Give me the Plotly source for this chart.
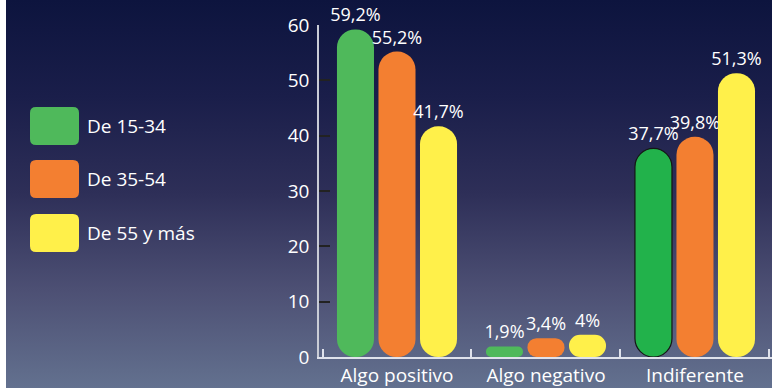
import base64
import plotly.graph_objects as go

# ---------------- data ----------------
categories = ["Algo positivo", "Algo negativo", "Indiferente"]
series_names = ["De 15-34", "De 35-54", "De 55 y más"]
values_15_34 = [59.2, 1.9, 37.7]
values_35_54 = [55.2, 3.4, 39.8]
values_55_mas = [41.7, 4.0, 51.3]
y_ticks = [0, 10, 20, 30, 40, 50, 60]

series_values = [values_15_34, values_35_54, values_55_mas]

# ---------------- styles ----------------
series_colors = [
    ["#4fb95b", "#4fb95b", "#22b24b"],
    ["#f37f31", "#f37f31", "#f37f31"],
    ["#fff04a", "#fff04a", "#fff04a"],
]
legend_colors = ["#4fb95b", "#f37f31", "#fff04a"]
outline_colors = [[None, None, "#151515"], [None, None, None], [None, None, None]]
FONT = "Open Sans"

W, H = 772, 388
L, R, T, B = 319, 0, 25, 31
PW, PH = W - L - R, H - T - B
X_RANGE = [-0.5235, 2.517]
Y_RANGE = [0, 60]
BARGAP, BARGROUPGAP = 0.164, 0.108

cat_px = PW / (X_RANGE[1] - X_RANGE[0])
bar_w_px = cat_px * (1 - BARGAP) / 3 * (1 - BARGROUPGAP)
px_per_unit = PH / (Y_RANGE[1] - Y_RANGE[0])


def label(v):
    return f"{v:g}".replace(".", ",") + "%"


def px_x(px):
    return (px - L) / PW


def px_y(py):
    return (H - B - py) / PH


fig = go.Figure()

# pill-shaped bars: with an explicit base, plotly rounds both ends of the bar
for si, vals in enumerate(series_values):
    for ci, v in enumerate(vals):
        r = min(bar_w_px / 2, v * px_per_unit / 2)
        col = series_colors[si][ci]
        oc = outline_colors[si][ci]
        fig.add_trace(go.Bar(
            x=[categories[ci]],
            y=[v],
            base=[0],
            offsetgroup=str(si),
            name=series_names[si],
            showlegend=False,
            marker=dict(color=col, cornerradius=r,
                        line=dict(width=1.2 if oc else 0, color=oc or col)),
            text=[label(v)],
            textposition="outside",
            textangle=0,
            constraintext="none",
            cliponaxis=False,
            textfont=dict(family=FONT, size=18, color="white"),
            hovertemplate=f"{series_names[si]}<br>%{{x}}: {label(v)}<extra></extra>",
        ))

# ---------------- background gradient ----------------
svg = (
    f'<svg xmlns="http://www.w3.org/2000/svg" width="{W}" height="{H}" preserveAspectRatio="none">'
    '<defs><linearGradient id="g" x1="0" y1="0" x2="0" y2="1">'
    '<stop offset="0" stop-color="#0d143e"/>'
    '<stop offset="0.25" stop-color="#1a1e4a"/>'
    '<stop offset="0.5" stop-color="#2e2f58"/>'
    '<stop offset="0.75" stop-color="#4d5074"/>'
    '<stop offset="1" stop-color="#63718f"/>'
    '</linearGradient></defs>'
    f'<rect width="{W}" height="{H}" fill="url(#g)"/>'
    f'<rect width="6" height="{H}" fill="#ffffff"/>'
    '</svg>'
)
src = "data:image/svg+xml;base64," + base64.b64encode(svg.encode()).decode()

images = [dict(
    source=src, xref="paper", yref="paper",
    x=px_x(0), y=px_y(0), sizex=W / PW, sizey=H / PH,
    xanchor="left", yanchor="top", sizing="stretch", layer="below",
)]

# ---------------- custom legend ----------------
shapes = []
annotations = []
legend_tops = [107, 160, 214]
box_w, box_h, rad = 49, 38, 6
for i, name in enumerate(series_names):
    x0, x1 = 30, 30 + box_w
    y0, y1 = legend_tops[i], legend_tops[i] + box_h
    pts = [
        ("M", [(x0 + rad, y0)]),
        ("L", [(x1 - rad, y0)]),
        ("Q", [(x1, y0), (x1, y0 + rad)]),
        ("L", [(x1, y1 - rad)]),
        ("Q", [(x1, y1), (x1 - rad, y1)]),
        ("L", [(x0 + rad, y1)]),
        ("Q", [(x0, y1), (x0, y1 - rad)]),
        ("L", [(x0, y0 + rad)]),
        ("Q", [(x0, y0), (x0 + rad, y0)]),
    ]
    path = " ".join(
        cmd + " " + " ".join(f"{px_x(a):.5f},{px_y(b):.5f}" for a, b in p)
        for cmd, p in pts
    ) + " Z"
    shapes.append(dict(type="path", path=path, xref="paper", yref="paper",
                       fillcolor=legend_colors[i], line=dict(width=0), layer="above"))
    annotations.append(dict(
        text=name, xref="paper", yref="paper", x=px_x(85), y=px_y((y0 + y1) / 2),
        xanchor="left", yanchor="middle", showarrow=False,
        font=dict(family=FONT, size=19, color="white"),
    ))

fig.update_layout(
    width=W, height=H,
    margin=dict(l=L, r=R, t=T, b=B, pad=0),
    paper_bgcolor="#2e2f58",
    plot_bgcolor="rgba(0,0,0,0)",
    barmode="group",
    bargap=BARGAP,
    bargroupgap=BARGROUPGAP,
    showlegend=False,
    images=images,
    shapes=shapes,
    annotations=annotations,
    font=dict(family=FONT, color="white"),
    xaxis=dict(
        range=X_RANGE, showgrid=False, zeroline=False,
        showline=True, linecolor="#dfe2ec", linewidth=2,
        ticks="inside", tickson="boundaries", ticklen=8,
        tickcolor="#dfe2ec", tickwidth=1.5,
        tickfont=dict(family=FONT, size=19, color="white"),
        fixedrange=True,
    ),
    yaxis=dict(
        range=Y_RANGE, tickvals=y_ticks, showgrid=False, zeroline=False,
        showline=True, linecolor="#c9ccd6", linewidth=1.5,
        ticks="inside", ticklen=11, tickcolor="#222222", tickwidth=1.5,
        ticklabelstandoff=4,
        tickfont=dict(family=FONT, size=19, color="white"),
        fixedrange=True,
    ),
)

fig.write_html(
    "out.html",
    config={"displayModeBar": False},
    post_script="document.body.style.margin='0px';document.documentElement.style.margin='0px';",
)
